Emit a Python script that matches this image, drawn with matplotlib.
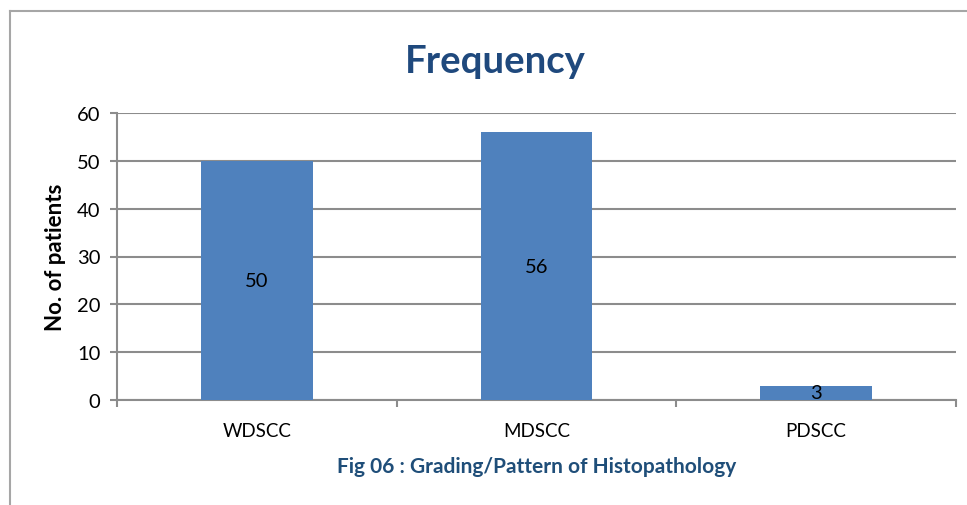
import matplotlib
matplotlib.use("Agg")
import matplotlib.pyplot as plt
from matplotlib.lines import Line2D
import numpy as np

categories = ["WDSCC", "MDSCC", "PDSCC"]
values = [50, 56, 3]
yticks = [0, 10, 20, 30, 40, 50, 60]

plt.rcParams['font.family'] = ['Lato', 'DejaVu Sans']

fig = plt.figure(figsize=(9.67, 5.06), dpi=100)
ax = fig.add_axes([117/967, 1-401/506, (956-117)/967, (401-114)/506])

grid_c = "#8c8c8c"
x = np.arange(len(categories))
bars = ax.bar(x, values, width=0.4, color="#4F81BD", zorder=3)
for xi, v in zip(x, values):
    ax.text(xi, v/2, str(v), ha="center", va="center", fontsize=14.5, color="black", zorder=4)

ax.set_xlim(-0.5, len(categories)-0.5)
ax.set_ylim(0, 60)
ax.set_yticks(yticks)
ax.set_yticklabels([str(t) for t in yticks])
ax.yaxis.grid(True, color=grid_c, linewidth=1.5, zorder=0)
ax.set_axisbelow(True)

ax.set_xticks(x)
ax.set_xticklabels(categories)
ax.set_xticks(np.arange(-0.5, len(categories), 1.0), minor=True)
ax.tick_params(axis="x", which="major", length=0, pad=16, labelsize=13.5)
ax.tick_params(axis="x", which="minor", length=5, width=1.5, color=grid_c, direction="out")
ax.tick_params(axis="y", length=5, width=1.5, color=grid_c, direction="out", pad=7, labelsize=14.5)

for s in ["top", "right"]:
    ax.spines[s].set_visible(False)
for s in ["left", "bottom"]:
    ax.spines[s].set_color(grid_c)
    ax.spines[s].set_linewidth(1.5)

ax.set_ylabel("No. of patients", fontsize=16, fontweight="bold", labelpad=8)
ax.set_xlabel("Fig 06 : Grading/Pattern of Histopathology", fontsize=15,
              fontweight="bold", color="#1F4E79", labelpad=12)

fig.text(495/967, 1-62/506, "Frequency", ha="center", va="center",
         fontsize=27.5, fontweight="bold", color="#1F497D")

# outer chart frame (partial, as in the reference)
fig.add_artist(Line2D([10/967, 10/967], [0, 1-12/506], transform=fig.transFigure,
                      color="#a6a6a6", linewidth=1.5))
fig.add_artist(Line2D([10/967, 1], [1-12/506, 1-12/506], transform=fig.transFigure,
                      color="#a6a6a6", linewidth=1.5))

fig.savefig("out.png", dpi=100, facecolor="white")
